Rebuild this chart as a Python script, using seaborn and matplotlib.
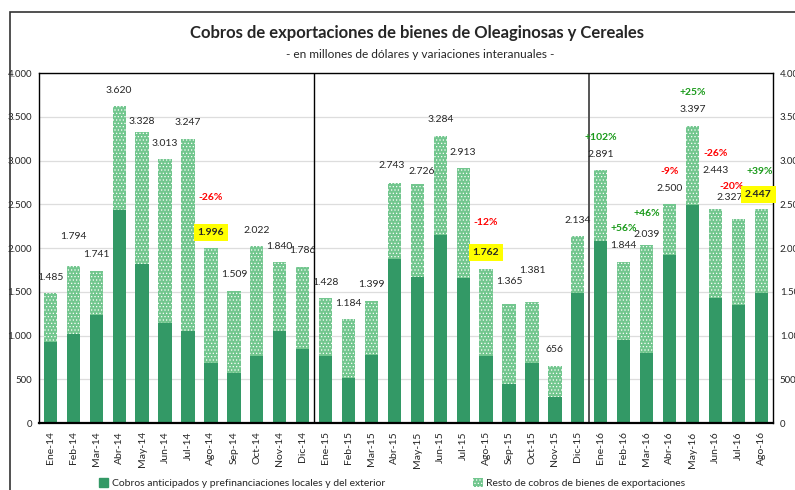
import pandas as pd
import matplotlib.pyplot as plt
import matplotlib.patches as mpatches
import seaborn as sns

# Data (millones de USD)
months = ['Ene-14', 'Feb-14', 'Mar-14', 'Abr-14', 'May-14', 'Jun-14', 'Jul-14', 'Ago-14',
          'Sep-14', 'Oct-14', 'Nov-14', 'Dic-14',
          'Ene-15', 'Feb-15', 'Mar-15', 'Abr-15', 'May-15', 'Jun-15', 'Jul-15', 'Ago-15',
          'Sep-15', 'Oct-15', 'Nov-15', 'Dic-15',
          'Ene-16', 'Feb-16', 'Mar-16', 'Abr-16', 'May-16', 'Jun-16', 'Jul-16', 'Ago-16']
cobros_anticipados = [925, 1015, 1230, 2435, 1815, 1145, 1050, 690, 575, 770, 1050, 850,
                      770, 520, 780, 1875, 1670, 2150, 1655, 770, 450, 690, 300, 1490,
                      2080, 950, 800, 1920, 2490, 1430, 1350, 1490]
total_cobros = [1485, 1794, 1741, 3620, 3328, 3013, 3247, 1996, 1509, 2022, 1840, 1786,
                1428, 1184, 1399, 2743, 2726, 3284, 2913, 1762, 1365, 1381, 656, 2134,
                2891, 1844, 2039, 2500, 3397, 2443, 2327, 2447]
var_months = ['Ago-14', 'Ago-15', 'Ene-16', 'Feb-16', 'Mar-16', 'Abr-16', 'May-16',
              'Jun-16', 'Jul-16', 'Ago-16']
var_pct = [-26, -12, 102, 56, 46, -9, 25, -26, -20, 39]
highlight_months = ['Ago-14', 'Ago-15', 'Ago-16']

dark_green = '#339966'
light_green = '#72c68e'

sns.set_theme(style="white")
plt.rcParams['font.family'] = ['Lato', 'DejaVu Sans']
plt.rcParams['hatch.linewidth'] = 0.5

PX = 72 / 100  # pixels -> points at dpi 100

# hand placement of a few labels, like in the original (pixels: dx, extra lift)
label_nudge = {'Feb-14': (0, 14), 'May-14': (0, -6), 'Abr-15': (-3, 1), 'May-15': (4, -3),
               'Sep-15': (0, 6), 'Oct-15': (0, 16), 'Mar-16': (0, -6), 'Jun-16': (0, 23),
               'Jul-16': (-9, 6), 'Ago-16': (-3, -2)}
pct_nudge = {'Ago-14': (0, 18), 'Ago-15': (0, 13), 'Mar-16': (0, 4), 'Jul-16': (-7, -6),
             'Ago-16': (-2, 6)}


def fmt(v):
    return f"{v:,.0f}".replace(",", ".")


df = pd.DataFrame({'mes': months, 'anticipados': cobros_anticipados, 'total': total_cobros})

fig = plt.figure(figsize=(7.95, 4.90), dpi=100)
ax = fig.add_axes([0.049, 0.1367, 0.923, 0.7143])

# light (total) bars, then dark bottom part on top
sns.barplot(data=df, x='mes', y='total', color=light_green, saturation=1, width=0.58, ax=ax)
for p in ax.patches:
    p.set_hatch('.....')
    p.set_edgecolor('white')
    p.set_linewidth(0)
n_light = len(ax.patches)
sns.barplot(data=df, x='mes', y='anticipados', color=dark_green, saturation=1, width=0.58, ax=ax)
for p in ax.patches[n_light:]:
    p.set_linewidth(0)

ax.set_xlim(-0.5, len(months) - 0.5)
ax.set_ylim(0, 4000)
ax.set_yticks(range(0, 4001, 500))
ax.set_yticklabels([fmt(v) for v in range(0, 4001, 500)])
ax.yaxis.grid(True, color='#dddddd', linewidth=0.9)
ax.set_axisbelow(True)
ax.set_xlabel('')
ax.set_ylabel('')
ax.tick_params(axis='y', labelsize=7, length=0, pad=5, labelright=True)
ax.tick_params(axis='x', labelsize=7.5, length=0, pad=6, rotation=90)

for s in ax.spines.values():
    s.set_color('black')
    s.set_linewidth(1)
ax.spines['bottom'].set_linewidth(1.6)

# year separators
ax.axvline(11.5, color='black', linewidth=1)
ax.axvline(23.5, color='#555555', linewidth=1.4)

# value labels
label_y = {}
for i, (m, t) in enumerate(zip(months, total_cobros)):
    dx, dy = label_nudge.get(m, (0, 0))
    off = 16 + dy
    label_y[m] = off
    kw = dict(xy=(i, t), xytext=(dx * PX, off * PX), textcoords='offset points',
              ha='center', va='center', fontsize=7.5)
    if m in highlight_months:
        ax.annotate(fmt(t), fontweight='bold', zorder=5,
                    bbox=dict(boxstyle='square,pad=0.38', fc='#ffff00', ec='none'), **kw)
    else:
        ax.annotate(fmt(t), **kw)

for m, v in zip(var_months, var_pct):
    i = months.index(m)
    dx, dy = pct_nudge.get(m, (0, 0))
    color = '#1a9a1a' if v > 0 else '#ff0000'
    label = f"+{v}%" if v > 0 else f"{v}%"
    ax.annotate(label, xy=(i, total_cobros[i]), xytext=(dx * PX, (label_y[m] + 17 + dy) * PX),
                textcoords='offset points', ha='center', va='center',
                fontsize=7.5, fontweight='bold', color=color)

# titles
fig.text(0.524, 1 - 33 / 490, 'Cobros de exportaciones de bienes de Oleaginosas y Cereales',
         ha='center', va='center', fontsize=12, fontweight='bold')
fig.text(0.528, 1 - 54 / 490, '- en millones de dólares y variaciones interanuales -',
         ha='center', va='center', fontsize=8.6)

# legend
handles = [mpatches.Patch(facecolor=dark_green, edgecolor=dark_green,
                          label='Cobros anticipados y prefinanciaciones locales y del exterior'),
           mpatches.Patch(facecolor=light_green, edgecolor='white', hatch='.....', linewidth=0,
                          label='Resto de cobros de bienes de exportaciones')]
fig.legend(handles=handles, loc='center', bbox_to_anchor=(392 / 795, 1 - 483 / 490), ncol=2,
           frameon=False, fontsize=7.5, handlelength=0.9, handleheight=0.9,
           handletextpad=0.3, columnspacing=8.5)

# outer frame
fig.add_artist(mpatches.Rectangle((10 / 795, -0.1), 1.2, 1.1 - 12 / 490,
                                  transform=fig.transFigure, fill=False,
                                  edgecolor='#333333', linewidth=1.2))

fig.savefig('out.png', dpi=100)
